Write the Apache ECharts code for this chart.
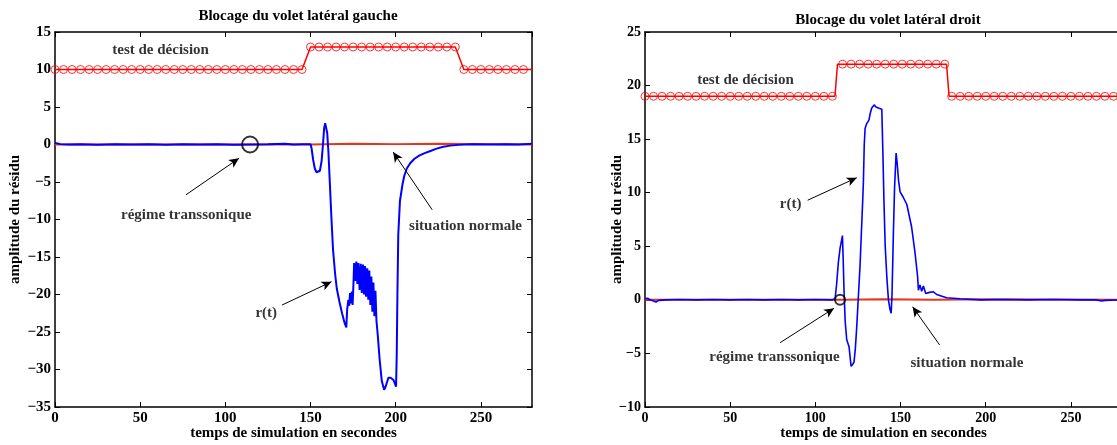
<!DOCTYPE html>
<html><head><meta charset="utf-8">
<script src="https://cdn.jsdelivr.net/npm/echarts@6/dist/echarts.min.js"></script>
<style>html,body{margin:0;padding:0;background:#fff}#c{width:1117px;height:445px}</style>
</head><body><div id="c"></div>
<script>
// ---------- DATA ----------
const titles = ['Blocage du volet latéral gauche', 'Blocage du volet latéral droit'];
const xName = 'temps de simulation en secondes';
const yName = 'amplitude du résidu';
const xRange = [0, 280];
const yRangeLeft = [-35, 15];
const yRangeRight = [-10, 25];

// decision test (line vertices)
const leftTestLine = [[0,10],[145,10],[150,13],[235,13],[240,10],[280,10]];
const rightTestLine = [[0,19],[111.5,19],[113,22],[177,22],[178.5,19],[280,19]];

// decision test markers
const leftTestMarks = [
 [0,10],[5,10],[10,10],[15,10],[20,10],[25,10],[30,10],[35,10],[40,10],[45,10],
 [50,10],[55,10],[60,10],[65,10],[70,10],[75,10],[80,10],[85,10],[90,10],[95,10],
 [100,10],[105,10],[110,10],[115,10],[120,10],[125,10],[130,10],[135,10],[140,10],[145,10],
 [150,13],[155,13],[160,13],[165,13],[170,13],[175,13],[180,13],[185,13],[190,13],
 [195,13],[200,13],[205,13],[210,13],[215,13],[220,13],[225,13],[230,13],[235,13],
 [240,10],[245,10],[250,10],[255,10],[260,10],[265,10],[270,10],[275,10]
];
const rightTestMarks = [
 [0,19],[5,19],[10,19],[15,19],[20,19],[25,19],[30,19],[35,19],[40,19],[45,19],[50,19],
 [55,19],[60,19],[65,19],[70,19],[75,19],[80,19],[85,19],[90,19],[95,19],[100,19],[105,19],[110,19],
 [116,22],[121,22],[126,22],[131,22],[136,22],[141,22],[146,22],[151,22],[156,22],[161,22],[166,22],[171,22],[176,22],
 [180,19],[185,19],[190,19],[195,19],[200,19],[205,19],[210,19],[215,19],[220,19],[225,19],[230,19],
 [235,19],[240,19],[245,19],[250,19],[255,19],[260,19],[265,19],[270,19],[275,19],[280,19]
];

// normal-situation residual (red, around zero)
const leftNormal = [[0,0],[150,0],[175,0.1],[200,0.05],[225,0.1],[280,0]];
const rightNormal = [[0,0],[115,0],[140,0.05],[170,0],[200,0.05],[280,0]];

// residual r(t), left panel (left flap blocked)
const leftResidual = [
 [0,0.2],[1.5,0.15],[3,0.05],[8,0],[15,0.03],[25,-0.03],[35,0.03],[45,0],[55,0.03],[65,-0.03],
 [75,0.03],[85,0],[95,0.03],[105,-0.03],[115,0],[125,0.03],[135,0.1],[140,0],[145,0.03],[150,0.03],
 [150.6,-0.5],[151.5,-2],[152.5,-3.2],[153.5,-3.7],[154.6,-3.85],[155.5,-3.5],[156.5,-2.2],[157.3,0],
 [158,2.2],[158.6,2.85],[159.2,2.7],[159.8,1.5],[160.5,-1],[161.3,-5],[162.3,-10],[163.2,-14],
 [164.4,-17.2],[165.4,-19.2],[167,-21],[168.5,-22.5],[170,-23.8],[171,-24.4],[171.5,-22],[172.2,-20.7],
 [172.7,-21.5],[173.2,-19.8],[173.7,-21.2],[174.2,-19.6],[174.7,-21.4],[175.2,-18.5],[175.6,-15.8],
 [176.2,-18.2],[176.9,-15.6],[177.5,-18.6],[178.1,-15.8],[178.8,-19.4],[179.5,-15.9],[180.1,-19.8],
 [180.8,-16.0],[181.4,-20.0],[182.0,-16.2],[182.6,-20.3],[183.3,-16.5],[183.9,-20.7],[184.5,-16.8],
 [185.1,-21.4],[185.7,-17.6],[186.3,-22.3],[186.9,-18.4],[187.5,-22.9],[188.1,-19.5],[188.7,-23.5],
 [189.5,-25.5],[190.5,-28.5],[191.8,-31.5],[193.2,-32.7],[194.2,-32.2],[195.7,-31.1],[197,-31.1],
 [198.7,-31.4],[200.2,-32.3],[200.6,-28],[201,-20],[201.5,-12],[202.5,-7.5],[204,-5.3],[205,-4.2],
 [206.5,-3.2],[208.5,-2.5],[211,-1.9],[214,-1.45],[217,-1.15],[220,-0.9],[224,-0.55],[228,-0.3],
 [232,-0.15],[237,-0.05],[245,0.03],[255,0],[265,0.03],[272,0],[280,0.1]
];

// residual r(t), right panel (right flap blocked)
const rightResidual = [
 [0,0.1],[1.5,0.15],[3,0],[5,-0.1],[6.5,-0.2],[8,-0.05],[12,0],[20,0.03],[30,0],[40,0.03],[50,0],
 [60,0.03],[70,0],[80,0.03],[90,0],[100,0.03],[110,0],[111.6,0.1],[112.5,1.5],[113.5,3.5],[114.5,4.8],
 [115.9,6.0],[116.3,4],[116.8,1],[117.5,-2],[118.4,-3.7],[119.8,-4.4],[120.5,-5.5],[121,-6.2],[122,-6.0],
 [122.7,-5.8],[123.5,-4.5],[124.3,-2.5],[125.2,0.2],[126.2,3.1],[127,6.2],[127.8,9.3],[128.2,11],
 [128.7,14.5],[129.2,16.0],[130,16.4],[131,16.5],[131.5,16.8],[132.2,17.4],[133.1,17.9],[134.5,18.2],
 [135.6,18.0],[137,17.9],[139,17.8],[139.6,14],[140.3,9],[141,5],[142,2],[142.9,0],[143.7,-0.8],
 [144.5,-1.25],[145,0.5],[145.8,6.2],[146.5,10.5],[147.4,13.7],[148,12.8],[148.8,11.2],[149.7,10.1],
 [151.5,9.6],[153.7,8.9],[156.5,6.8],[158.5,4.4],[160,2.2],[160.5,0.9],[161.4,1.4],[162.4,0.8],
 [163.4,1.3],[164.8,0.6],[167,0.7],[169.3,0.75],[171.2,0.5],[177,0.2],[185,0.1],[197,0],[210,0.03],
 [225,0],[240,0.03],[255,0],[265,0],[268,-0.1],[270,-0.05],[280,0]
];

// annotation circles
const leftCircle = [[114.5,0]];
const rightCircle = [[114.5,0]];

// annotation texts [t, v, text]
const leftTexts = [[62,12.6,'test de décision'],[77,-9.4,'régime transsonique'],[241,-10.9,'situation normale'],[124,-22.5,'r(t)']];
const rightTexts = [[59,20.5,'test de décision'],[85.5,8.9,'r(t)'],[76,-5.3,'régime transsonique'],[189,-5.9,'situation normale']];

// annotation arrows [fromT, fromV, toT, toV]
const leftArrows = [[76.9,-6.7,108,-1.84],[221.4,-8.7,198.5,-1.0],[133.3,-21.4,162.3,-18.3]];
const rightArrows = [[95.5,9.3,124.3,11.4],[79.3,-4.0,111,-0.78],[172.9,-4.2,157.1,-0.65]];

// ---------- CHART ----------
const FONT = "'Liberation Serif','Times New Roman',serif";
const txt = (size) => ({fontFamily: FONT, fontWeight: 'bold', fontSize: size, color: '#000'});
const axLine = {show: true, onZero: false, lineStyle: {color: '#000', width: 1.5}};
const axTick = {show: true, inside: true, length: 5, lineStyle: {color: '#000', width: 1}};
const minusFmt = v => String(v).replace('-', '\u2212');

const grids = [
  {left: 55, top: 32, width: 477, height: 375, outerBoundsMode: 'none', containLabel: false},
  {left: 645, top: 32, width: 477, height: 375, outerBoundsMode: 'none', containLabel: false}
];
const yRanges = [yRangeLeft, yRangeRight];
const yGaps = [32, 20];
const tickSizes = [15, 14];
const residualWidths = [2, 1.6];

const xAxes = [], yAxes = [];
[0,1].forEach(i => {
  xAxes.push({gridIndex: i, type: 'value', position: 'bottom', min: xRange[0], max: xRange[1], interval: 50,
    axisLine: axLine, axisTick: axTick, splitLine: {show: false},
    axisLabel: Object.assign(txt(tickSizes[i]), {margin: 4, formatter: minusFmt, showMaxLabel: false}),
    name: xName, nameLocation: 'middle', nameGap: 19, nameMoveOverlap: false, nameTextStyle: txt(15)});
  xAxes.push({gridIndex: i, type: 'value', position: 'top', min: xRange[0], max: xRange[1], interval: 50,
    axisLine: axLine, axisTick: axTick, splitLine: {show: false}, axisLabel: {show: false}});
  yAxes.push({gridIndex: i, type: 'value', position: 'left', min: yRanges[i][0], max: yRanges[i][1], interval: 5,
    axisLine: axLine, axisTick: axTick, splitLine: {show: false},
    axisLabel: Object.assign(txt(tickSizes[i]), {margin: 4, formatter: minusFmt}),
    name: yName, nameLocation: 'middle', nameGap: yGaps[i], nameMoveOverlap: false, nameTextStyle: txt(15)});
  yAxes.push({gridIndex: i, type: 'value', position: 'right', min: yRanges[i][0], max: yRanges[i][1], interval: 5,
    axisLine: axLine, axisTick: axTick, splitLine: {show: false}, axisLabel: {show: false}});
});

function panelSeries(i, normal, residual, testLine, testMarks, circle, texts, arrows, circleSize) {
  const xi = i * 2, yi = i * 2;
  return [
    {type: 'line', xAxisIndex: xi, yAxisIndex: yi, data: normal, showSymbol: false, symbol: 'none',
     lineStyle: {color: '#e8341c', width: 2}, z: 2},
    {type: 'line', xAxisIndex: xi, yAxisIndex: yi, data: residual, showSymbol: false, symbol: 'none',
     lineStyle: {color: '#0000ff', width: residualWidths[i]}, z: 3},
    {type: 'line', xAxisIndex: xi, yAxisIndex: yi, data: testLine, showSymbol: false, symbol: 'none',
     lineStyle: {color: '#ff0000', width: 1.5}, z: 4},
    {type: 'scatter', xAxisIndex: xi, yAxisIndex: yi, data: testMarks, symbol: 'circle', symbolSize: 8,
     itemStyle: {color: 'rgba(255,255,255,0)', borderColor: '#ff0000', borderWidth: 1}, z: 5},
    {type: 'scatter', xAxisIndex: xi, yAxisIndex: yi, data: circle, symbol: 'circle', symbolSize: circleSize,
     itemStyle: {color: 'rgba(255,255,255,0)', borderColor: '#000', borderWidth: 2}, z: 6},
    {type: 'scatter', xAxisIndex: xi, yAxisIndex: yi, symbolSize: 0, z: 7,
     data: texts.map(d => ({value: [d[0], d[1]], name: d[2]})),
     label: Object.assign(txt(15), {show: true, position: 'inside', formatter: '{b}'}),
     markLine: {silent: true, symbol: ['none', 'arrow'], symbolSize: [7, 10], precision: 4,
       lineStyle: {color: '#000', width: 1, type: 'solid'}, label: {show: false},
       data: arrows.map(a => [{coord: [a[0], a[1]]}, {coord: [a[2], a[3]]}])}}
  ];
}

const series = [].concat(
  panelSeries(0, leftNormal, leftResidual, leftTestLine, leftTestMarks, leftCircle, leftTexts, leftArrows, 16),
  panelSeries(1, rightNormal, rightResidual, rightTestLine, rightTestMarks, rightCircle, rightTexts, rightArrows, 10)
);

const chart = echarts.init(document.getElementById('c'), null, {renderer: 'canvas'});
chart.setOption({
  animation: false,
  backgroundColor: '#fff',
  title: [
    {text: titles[0], left: 293, top: 4, textAlign: 'center', textStyle: txt(15)},
    {text: titles[1], left: 883, top: 8, textAlign: 'center', textStyle: txt(15)}
  ],
  grid: grids, xAxis: xAxes, yAxis: yAxes, series: series
});
</script></body></html>
